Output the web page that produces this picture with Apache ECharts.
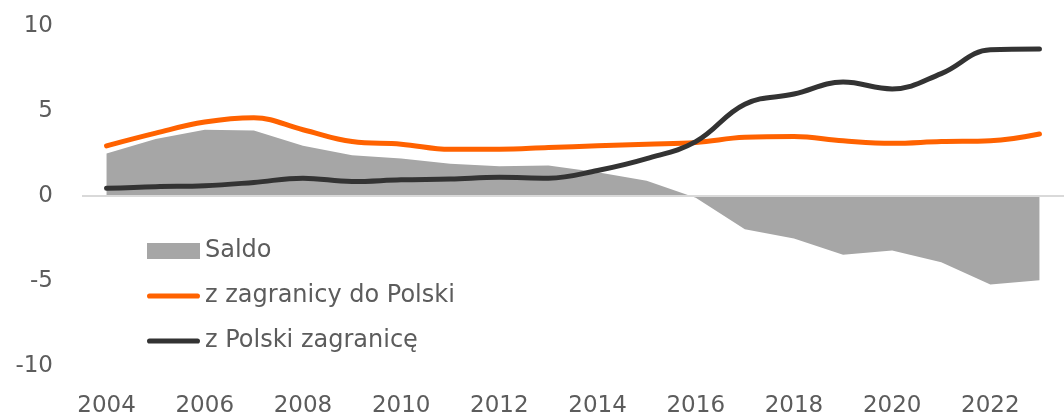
<!DOCTYPE html>
<html>
<head>
<meta charset="utf-8">
<script src="https://cdn.jsdelivr.net/npm/echarts@6/dist/echarts.min.js"></script>
<style>
  html, body { margin: 0; padding: 0; background: #fff; }
  #chart { width: 1064px; height: 418px; }
</style>
</head>
<body>
<div id="chart"></div>
<script>
const years = ['2004', '2005', '2006', '2007', '2008', '2009', '2010', '2011', '2012', '2013',
  '2014', '2015', '2016', '2017', '2018', '2019', '2020', '2021', '2022', '2023']
// imigracja (z zagranicy do Polski)
const inflow = [2.95, 3.7, 4.35, 4.6, 3.9, 3.2, 3.05, 2.75, 2.75, 2.85,
  2.95, 3.05, 3.15, 3.45, 3.5, 3.25, 3.1, 3.2, 3.25, 3.65]
// emigracja (z Polski zagranicę)
const outflow = [0.45, 0.55, 0.6, 0.8, 1.05, 0.85, 0.95, 1.0, 1.1, 1.05,
  1.5, 2.2, 3.2, 5.4, 6.0, 6.7, 6.3, 7.2, 8.6, 8.65]
const saldo = [2.5, 3.35, 3.9, 3.85, 2.95, 2.4, 2.2, 1.9, 1.75, 1.8,
  1.4, 0.9, -0.1, -1.95, -2.5, -3.45, -3.2, -3.9, -5.2, -4.95]

const font = "'DejaVu Sans', sans-serif"
const textColor = '#5c5c5c'
// ikona legendy: gruba linia z zaokrąglonymi końcami
const lineIcon = 'path://M2.5,0L49.5,0A2.5,2.5,0,0,1,49.5,5L2.5,5A2.5,2.5,0,0,1,2.5,0Z'

const chart = echarts.init(document.getElementById('chart'))
chart.setOption({
  animation: false,
  grid: { left: 82, top: 26, width: 987, height: 341 },
  legend: {
    orient: 'vertical',
    left: 147,
    top: 239,
    padding: 0,
    itemWidth: 53,
    itemHeight: 16,
    itemGap: 21,
    textStyle: { fontFamily: font, fontSize: 24, color: textColor, lineHeight: 24 },
    data: [
      { name: 'Saldo', icon: 'rect' },
      { name: 'z zagranicy do Polski', icon: lineIcon },
      { name: 'z Polski zagranicę', icon: lineIcon },
    ],
  },
  xAxis: {
    type: 'category',
    data: years,
    boundaryGap: true,
    axisLine: { show: false, onZero: false },
    axisTick: { show: false },
    axisLabel: {
      interval: 1, // co drugi rok
      margin: 29,
      fontFamily: font,
      fontSize: 23,
      color: textColor,
    },
  },
  yAxis: {
    type: 'value',
    min: -10,
    max: 10,
    interval: 5,
    splitLine: { show: false },
    axisLine: { show: false },
    axisTick: { show: false },
    axisLabel: { margin: 29, fontFamily: font, fontSize: 23, color: textColor, padding: [4, 0, 0, 0] },
  },
  series: [
    {
      name: 'Saldo',
      type: 'line',
      data: saldo,
      color: '#a6a6a6',
      symbol: 'none',
      lineStyle: { width: 0 },
      areaStyle: { color: '#a6a6a6', opacity: 1 },
      z: 1,
      markLine: {
        silent: true,
        symbol: 'none',
        label: { show: false },
        lineStyle: { color: '#d9d9d9', width: 2, type: 'solid' },
        data: [{ yAxis: 0 }],
      },
    },
    {
      name: 'z zagranicy do Polski',
      type: 'line',
      data: inflow,
      color: '#ff6200',
      smooth: 0.4,
      symbol: 'none',
      lineStyle: { width: 5, cap: 'round' },
      z: 3,
    },
    {
      name: 'z Polski zagranicę',
      type: 'line',
      data: outflow,
      color: '#333333',
      smooth: 0.4,
      symbol: 'none',
      lineStyle: { width: 5, cap: 'round' },
      z: 4,
    },
  ],
})
</script>
</body>
</html>
